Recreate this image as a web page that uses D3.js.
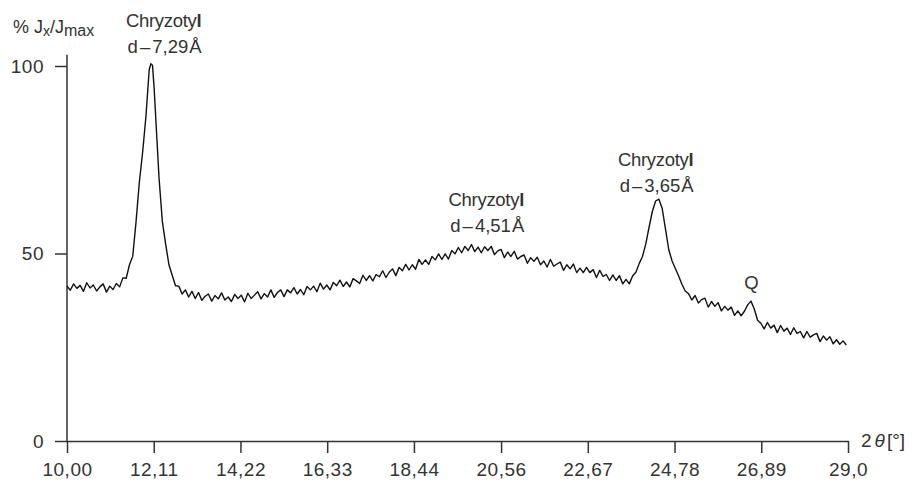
<!DOCTYPE html>
<html>
<head>
<meta charset="utf-8">
<script src="https://cdn.jsdelivr.net/npm/d3@7"></script>
<style>
  body { margin: 0; background: #fff; }
  svg text { font-family: "Liberation Sans", Arial, sans-serif; fill: #333; }
</style>
</head>
<body>
<div id="chart"></div>
<script>
// X-ray diffraction scan, [2theta, % Jx/Jmax]
const scanPoints = [
  [10.00,41.3],[10.08,40.2],[10.16,41.9],[10.24,40.7],[10.32,41.5],[10.40,39.9],[10.48,42.2],[10.56,40.8],
  [10.64,41.6],[10.72,40.0],[10.80,41.1],[10.88,41.9],[10.96,39.7],[11.04,41.3],[11.12,40.4],[11.20,42.0],
  [11.28,41.1],[11.36,43.5],[11.44,43.4],[11.52,47.0],[11.60,49.3],[11.68,58.5],[11.76,69.0],[11.84,77.0],
  [11.92,86.5],[12.00,99.0],[12.04,100.6],[12.08,100.2],[12.12,94.0],[12.16,86.0],[12.24,70.0],[12.32,58.5],
  [12.40,52.5],[12.48,47.0],[12.56,44.2],[12.64,41.4],[12.72,41.3],[12.80,39.2],[12.88,40.3],[12.96,38.4],
  [13.04,39.9],[13.12,38.0],[13.20,39.6],[13.28,37.5],[13.36,38.6],[13.44,39.2],[13.52,37.3],[13.60,38.8],
  [13.68,37.9],[13.76,39.5],[13.84,37.6],[13.92,38.4],[14.00,37.2],[14.08,39.1],[14.16,38.0],[14.24,38.9],
  [14.32,37.1],[14.40,39.4],[14.48,38.0],[14.56,38.9],[14.64,39.8],[14.72,37.9],[14.80,39.3],[14.88,38.4],
  [14.96,40.3],[15.04,38.3],[15.12,39.6],[15.20,40.3],[15.28,38.5],[15.36,40.3],[15.44,39.5],[15.52,40.9],
  [15.60,39.2],[15.68,40.4],[15.76,39.0],[15.84,41.2],[15.92,40.3],[16.00,41.3],[16.08,39.8],[16.16,42.1],
  [16.24,40.5],[16.32,41.6],[16.40,40.3],[16.48,42.3],[16.56,41.4],[16.64,42.9],[16.72,41.2],[16.80,42.4],
  [16.88,41.1],[16.96,43.3],[17.04,42.7],[17.12,42.0],[17.20,44.2],[17.28,42.8],[17.36,44.1],[17.44,42.7],
  [17.52,44.4],[17.60,43.8],[17.68,45.4],[17.76,43.6],[17.84,45.0],[17.92,45.9],[18.00,44.1],[18.08,46.3],
  [18.16,45.4],[18.24,47.1],[18.32,45.6],[18.40,47.0],[18.48,45.8],[18.56,48.4],[18.64,47.1],[18.72,48.3],
  [18.80,47.1],[18.88,49.2],[18.96,48.3],[19.04,49.9],[19.12,48.4],[19.20,49.9],[19.28,48.5],[19.36,50.8],
  [19.44,49.9],[19.52,51.6],[19.60,50.2],[19.68,51.9],[19.76,50.8],[19.84,52.4],[19.92,50.5],[20.00,51.7],
  [20.08,50.2],[20.16,51.8],[20.24,50.8],[20.32,51.9],[20.40,49.7],[20.48,50.7],[20.56,51.1],[20.64,48.9],
  [20.72,50.4],[20.80,49.2],[20.88,50.6],[20.96,48.5],[21.04,49.2],[21.12,49.6],[21.20,47.4],[21.28,48.9],
  [21.36,47.9],[21.44,49.0],[21.52,47.0],[21.60,48.0],[21.68,46.4],[21.76,48.4],[21.84,46.6],[21.92,47.2],
  [22.00,47.7],[22.08,45.5],[22.16,47.0],[22.24,45.9],[22.32,47.2],[22.40,44.9],[22.48,46.1],[22.56,44.9],
  [22.64,46.3],[22.72,44.9],[22.80,45.7],[22.88,43.6],[22.96,45.5],[23.04,43.9],[23.12,44.4],[23.20,42.8],
  [23.28,44.3],[23.36,42.8],[23.44,44.1],[23.52,41.9],[23.60,43.1],[23.68,41.9],[23.76,44.0],[23.84,45.0],
  [23.92,47.3],[24.00,49.2],[24.08,52.5],[24.16,57.0],[24.24,61.2],[24.32,64.0],[24.40,64.5],[24.48,62.0],
  [24.56,56.5],[24.64,51.0],[24.72,48.0],[24.80,46.0],[24.88,44.0],[24.96,41.8],[25.04,40.0],[25.12,39.3],
  [25.20,37.6],[25.28,38.8],[25.36,36.8],[25.44,37.7],[25.52,38.1],[25.60,35.7],[25.68,37.2],[25.76,35.9],
  [25.84,36.9],[25.92,34.7],[26.00,35.9],[26.08,34.9],[26.16,35.7],[26.24,33.5],[26.32,34.7],[26.40,33.4],
  [26.48,34.6],[26.56,36.3],[26.64,37.3],[26.72,35.2],[26.80,32.2],[26.88,31.4],[26.96,29.9],[27.04,31.6],
  [27.12,30.1],[27.20,30.9],[27.28,28.9],[27.36,30.8],[27.44,29.3],[27.52,30.1],[27.60,28.4],[27.68,30.2],
  [27.76,28.7],[27.84,29.2],[27.92,27.5],[28.00,29.2],[28.08,27.7],[28.16,28.3],[28.24,28.7],[28.32,26.5],
  [28.40,28.0],[28.48,26.9],[28.56,27.8],[28.64,25.9],[28.72,27.0],[28.80,25.8],[28.88,26.7],[28.96,25.6]
];

const xTickValues = [10.00, 12.11, 14.22, 16.33, 18.44, 20.56, 22.67, 24.78, 26.89, 29.0];
const xTickLabels = ["10,00", "12,11", "14,22", "16,33", "18,44", "20,56", "22,67", "24,78", "26,89", "29,0"];
const yTickValues = [0, 50, 100];

// peak annotations
const peakNames = ["Chryzotyl", "Chryzotyl", "Chryzotyl", "Q"];
const peakSpacings = ["7,29", "4,51", "3,65", ""];
const peakPositions = [12.35, 20.20, 24.32, 26.65];
const peakLabelLevels = [110.5, 62.8, 73.4, 40.5];

const width = 915, height = 482;

const svg = d3.select("#chart")
  .append("svg")
  .attr("width", width)
  .attr("height", height);

const x = d3.scaleLinear().domain([10, 29]).range([67, 848]);
const y = d3.scaleLinear().domain([0, 100]).range([441, 66]);

// y axis
const yAxis = svg.append("g")
  .attr("transform", `translate(${x(10)},0)`)
  .call(d3.axisLeft(y).tickValues(yTickValues).tickSize(12).tickPadding(11).tickFormat(d3.format("d")));
yAxis.select(".domain").remove();
yAxis.selectAll(".tick line").attr("stroke", "#333").attr("stroke-width", 1.5);
yAxis.selectAll("text")
  .style("font-size", "19px")
  .style("letter-spacing", "0.5px")
  .attr("font-family", null);

svg.append("line")
  .attr("x1", x(10)).attr("x2", x(10))
  .attr("y1", y(0)).attr("y2", y(103))
  .attr("stroke", "#333")
  .attr("stroke-width", 1.5);

// x axis
const xAxis = svg.append("g")
  .attr("transform", `translate(0,${y(0)})`)
  .call(d3.axisBottom(x)
    .tickValues(xTickValues)
    .tickSize(12)
    .tickSizeOuter(0)
    .tickPadding(10)
    .tickFormat((d, i) => xTickLabels[i]));
xAxis.select(".domain").attr("stroke", "#333").attr("stroke-width", 1.5);
xAxis.selectAll(".tick line").attr("stroke", "#333").attr("stroke-width", 1.5);
xAxis.selectAll("text")
  .style("font-size", "19px")
  .style("letter-spacing", "0.5px")
  .attr("font-family", null);

// axis titles
const yTitle = svg.append("text")
  .attr("x", 13)
  .attr("y", 33)
  .style("font-size", "18px");
yTitle.append("tspan").text("% J");
yTitle.append("tspan").attr("dy", 3).style("font-size", "14px").text("x");
yTitle.append("tspan").attr("dy", -3).text("/J");
yTitle.append("tspan").attr("dy", 3).style("font-size", "16px").text("max");

const xTitle = svg.append("text")
  .attr("x", 861)
  .attr("y", 447)
  .style("font-size", "19px");
xTitle.append("tspan").text("2");
xTitle.append("tspan").attr("dx", 3).style("font-style", "italic").text("\u03b8");
xTitle.append("tspan").attr("dx", 2).text("[\u00b0]");

// scan line
const line = d3.line()
  .x(d => x(d[0]))
  .y(d => y(d[1]));

svg.append("path")
  .datum(scanPoints)
  .attr("fill", "none")
  .attr("stroke", "#111")
  .attr("stroke-width", 1.4)
  .attr("stroke-linejoin", "round")
  .attr("d", line);

// peak labels
peakNames.forEach((name, i) => {
  const cx = x(peakPositions[i]);
  const top = y(peakLabelLevels[i]);
  const t = svg.append("text")
    .attr("x", cx)
    .attr("y", top)
    .attr("text-anchor", "middle")
    .style("font-size", "18.5px")
    .style("letter-spacing", "-0.3px");
  if (name === "Q") {
    t.text(name);
    return;
  }
  t.append("tspan").text(name.slice(0, -1));
  t.append("tspan").style("font-weight", "bold").text(name.slice(-1));

  const d = svg.append("text")
    .attr("x", cx + 1)
    .attr("y", top + 26)
    .attr("text-anchor", "middle")
    .style("font-size", "18.5px");
  d.append("tspan").text("d");
  d.append("tspan").attr("dx", 2).text("\u2013");
  d.append("tspan").attr("dx", 2).text(peakSpacings[i]);
  d.append("tspan").attr("dx", 1).text("\u00c5");
});
</script>
</body>
</html>
